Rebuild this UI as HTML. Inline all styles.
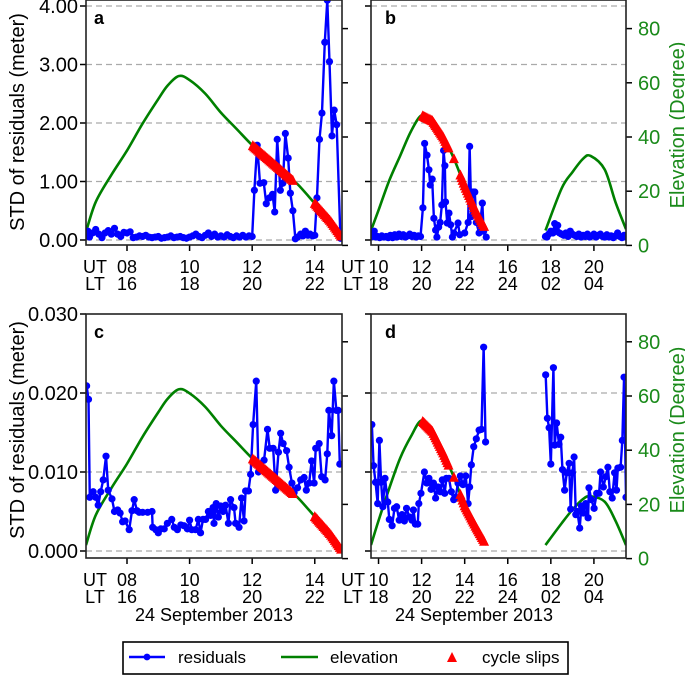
<!DOCTYPE html>
<html><head><meta charset="utf-8">
<style>
html,body{margin:0;padding:0;background:#fff;}
svg{display:block;font-family:"Liberation Sans",Arial,sans-serif;}
</style></head>
<body>
<svg id="chart" width="685" height="675" viewBox="0 0 685 675" xmlns="http://www.w3.org/2000/svg"></svg>
<script>
// ---------- DATA ----------
// elevation (degrees) panels a & c
const elevACTimes = [6.69,7.0,7.5,8.0,8.5,9.0,9.3,9.66,10.0,10.5,11.0,11.5,12.0,12.5,13.0,13.3,13.5,14.0,14.5,14.87];
const elevACValues = [5,16,26,35,45,54,59,62.5,61,56,49,43,37,32,27,24,22,15.5,9,3];
// elevation panel b
const elevBTimes1 = [9.65,10.0,10.5,11.0,11.5,12.0,12.5,13.0,13.5,14.0,14.5,15.0];
const elevBValues1 = [5.5,13,24,33,42,48,46,40,32,22,13,5.5];
const elevBTimes2 = [17.75,18.5,19.0,19.5,19.85,20.5,21.0,21.49];
const elevBValues2 = [5.5,21,27,32,33,28,16,6];
// elevation panel d
const elevDTimes1 = [9.65,10.0,10.5,11.0,11.5,12.0,12.5,13.0,13.5,14.0,14.5,15.0];
const elevDValues1 = [5,14,26,37,45,51,47,39,30,19.5,12,5];
const elevDTimes2 = [17.75,18.5,19.0,19.5,19.85,20.5,21.0,21.49];
const elevDValues2 = [5,13,18,22,23,21,14,5];

// residuals panel a (meter)
const resATimes = [6.7,6.75,6.8,6.9,7.0,7.1,7.2,7.3,7.4,7.5,7.6,7.7,7.8,7.9,8.0,8.1,8.2,8.3,8.4,8.5,8.6,8.7,8.8,8.9,9.0,9.1,9.2,9.3,9.4,9.5,9.6,9.7,9.8,9.9,10.0,10.1,10.2,10.3,10.4,10.5,10.6,10.7,10.8,10.9,11.0,11.1,11.2,11.3,11.4,11.5,11.6,11.7,11.8,11.9,12.0,12.07,12.16,12.25,12.37,12.45,12.55,12.65,12.72,12.8,12.9,12.98,13.06,13.15,13.22,13.3,13.38,13.45,13.55,13.62,13.7,13.78,13.85,13.93,14.0,14.07,14.15,14.23,14.32,14.4,14.47,14.55,14.62,14.7,14.82];
const resAValues = [0.08,0.15,0.05,0.12,0.18,0.1,0.04,0.12,0.16,0.1,0.2,0.1,0.06,0.13,0.12,0.14,0.04,0.05,0.07,0.06,0.08,0.05,0.04,0.05,0.06,0.03,0.04,0.05,0.07,0.04,0.05,0.06,0.04,0.03,0.05,0.07,0.1,0.06,0.04,0.08,0.12,0.06,0.1,0.05,0.07,0.05,0.09,0.06,0.04,0.07,0.05,0.08,0.05,0.07,0.06,0.85,1.62,0.97,0.98,0.62,0.72,0.78,0.48,1.72,0.85,0.97,1.82,1.4,0.8,0.5,0.02,0.05,0.1,0.07,0.15,0.08,0.1,0.07,0.08,0.72,1.72,2.17,3.38,4.1,3.05,1.78,2.22,1.97,0.03];
// residuals panel b (meter)
const resBTimes = [9.65,9.72,9.8,9.88,9.95,10.05,10.15,10.25,10.35,10.45,10.55,10.65,10.75,10.85,10.95,11.05,11.15,11.25,11.35,11.45,11.55,11.65,11.75,11.85,11.95,12.06,12.14,12.25,12.34,12.4,12.49,12.57,12.65,12.71,12.79,12.86,12.94,13.02,13.08,13.11,13.19,13.27,13.35,13.43,13.5,13.69,13.77,14.0,14.16,14.23,14.31,14.39,14.47,14.54,14.67,14.82,14.88,15.0,
17.75,17.82,17.9,18.0,18.1,18.18,18.25,18.32,18.4,18.5,18.6,18.7,18.8,18.9,19.0,19.1,19.2,19.3,19.4,19.5,19.6,19.7,19.8,19.9,20.0,20.1,20.2,20.3,20.4,20.5,20.6,20.7,20.8,20.9,21.0,21.1,21.2,21.3,21.4,21.48];
const resBValues = [0.05,0.1,0.15,0.05,0.06,0.04,0.07,0.05,0.06,0.04,0.08,0.04,0.09,0.05,0.1,0.06,0.09,0.05,0.07,0.1,0.06,0.08,0.05,0.07,0.06,0.55,1.65,1.45,1.2,0.94,1.04,0.37,0.17,0.05,0.22,0.3,0.6,1.53,1.27,0.65,0.29,0.46,0.26,0.05,0.12,0.29,0.09,0.12,0.3,1.6,0.4,0.82,0.82,0.3,0.12,0.63,0.15,0.05,
0.06,0.05,0.1,0.15,0.12,0.28,0.15,0.25,0.12,0.1,0.08,0.12,0.06,0.15,0.1,0.08,0.06,0.1,0.05,0.08,0.06,0.1,0.05,0.07,0.1,0.05,0.08,0.1,0.06,0.05,0.09,0.05,0.07,0.04,0.07,0.12,0.06,0.04,0.08,0.05];
// residuals panel c (units of 0.001 m)
const resCTimes = [6.71,6.77,6.81,6.92,7.0,7.08,7.16,7.24,7.33,7.4,7.52,7.6,7.7,7.78,7.86,7.94,8.07,8.16,8.23,8.32,8.39,8.5,8.66,8.8,8.82,8.92,9.0,9.08,9.19,9.29,9.43,9.51,9.61,9.72,9.82,9.93,10.0,10.07,10.19,10.28,10.35,10.43,10.51,10.6,10.67,10.75,10.78,10.85,10.92,10.99,11.07,11.15,11.24,11.31,11.42,11.47,11.58,11.66,11.74,11.79,11.88,11.95,12.03,12.13,12.2,12.27,12.38,12.49,12.56,12.67,12.75,12.84,12.91,12.99,13.1,13.18,13.27,13.34,13.45,13.55,13.66,13.73,13.82,13.9,13.98,14.03,14.14,14.22,14.33,14.4,14.45,14.54,14.61,14.69,14.75,14.8];
const resCValues = [20.9,19.2,6.8,7.5,6.8,5.8,7.5,9,12,7.7,6.6,5,5.2,4.8,3.7,3.8,2.7,5.1,6.5,5.1,4.9,4.9,4.9,5,3,2.7,2.3,2.8,2.8,3.5,4,3,2.7,3.3,3.2,2.8,3.9,2.7,2.7,4,2.3,4,4,5,4.5,5.5,3.5,6,4.3,5.7,5,5.8,3.5,6.5,5.5,3.5,3,6.7,3.8,7.6,7.6,9.7,16,21.5,10,11,11.5,15.4,13,13,7.7,12.5,14.9,13.6,12.7,10.6,8.6,7.4,8,9,9.3,7.7,8.6,11.4,8.6,13,13.6,9.4,9,12.3,17.8,14.6,21.5,17.8,17.8,11];
// residuals panel d (units of 0.001 m)
const resDTimes = [9.69,9.77,9.86,9.96,10.04,10.12,10.2,10.3,10.43,10.5,10.63,10.74,10.84,10.96,11.09,11.2,11.3,11.43,11.55,11.62,11.71,11.82,11.87,11.97,12.13,12.24,12.34,12.44,12.55,12.65,12.76,12.86,12.96,13.07,13.15,13.27,13.38,13.49,13.58,13.69,13.8,13.92,14.05,14.16,14.23,14.31,14.42,14.54,14.67,14.78,14.88,14.97,
17.76,17.84,17.92,18.0,18.12,18.18,18.27,18.38,18.46,18.54,18.64,18.74,18.85,18.92,19.0,19.08,19.16,19.23,19.34,19.42,19.51,19.62,19.73,19.77,19.88,20.01,20.13,20.24,20.31,20.44,20.55,20.65,20.74,20.85,20.96,21.05,21.11,21.24,21.32,21.4,21.49];
const resDValues = [16,10.8,8.7,6,14,8.7,5.6,9.2,6.2,4,3.2,5.4,5.6,3.9,4.6,3.8,5.4,4.3,3.9,5.2,3.4,3.4,6,7.3,10,8.6,9.2,7.8,8.6,6.7,8.1,7.5,9,7.3,9.2,9.2,7.5,6.5,6.8,8.6,9.5,8.4,9.5,6,8.1,10.9,13.2,14.2,15.3,15.4,25.8,13.8,
22.3,16.8,15.6,11,23.2,13.4,16.2,13.5,14.4,10.3,7.7,9.9,11.1,5.3,9.9,11.9,4.6,5,2.9,5.7,4.8,6,4.2,8,6.5,5.4,7.3,7.3,10,8.1,9.4,10.6,7.5,6.7,9.9,7.7,10.5,10.6,14,22,6.8];
// cycle slip times
const slipACTimes = [12.02,12.06,12.1,12.14,12.18,12.22,12.26,12.3,12.34,12.38,12.42,12.46,12.5,12.54,12.58,12.62,12.66,12.7,12.74,12.78,12.82,12.86,12.9,12.94,12.98,13.02,13.06,13.1,13.14,13.18,13.22,13.26,13.3,
14.0,14.04,14.08,14.12,14.16,14.2,14.24,14.28,14.32,14.36,14.4,14.44,14.48,14.52,14.56,14.6,14.64,14.68,14.72,14.76,14.8,14.84];
const slipBDTimes = [12.05,12.1,12.15,12.2,12.25,12.3,12.35,12.4,12.45,12.5,12.55,12.6,12.65,12.7,12.75,12.8,12.85,12.9,12.95,13.0,13.05,13.1,13.15,13.2,13.25,13.5,
13.8,13.85,13.9,13.95,14.0,14.05,14.1,14.15,14.2,14.25,14.3,14.35,14.4,14.45,14.5,14.55,14.6,14.65,14.7,14.75,14.8,14.85,14.9];
// tick labels
const utTicksAC = ["08","10","12","14"];
const ltTicksAC = ["16","18","20","22"];
const utTicksBD = ["10","12","14","16","18","20"];
const ltTicksBD = ["18","20","22","24","02","04"];
const resTicksAB = ["0.00","1.00","2.00","3.00","4.00"];
const resTicksCD = ["0.000","0.010","0.020","0.030"];
const elevTicks = ["0","20","40","60","80"];

// ---------- DRAW ----------
const NS = "http://www.w3.org/2000/svg";
const svg = document.getElementById("chart");
function mk(tag, attrs, parent) {
  const e = document.createElementNS(NS, tag);
  for (const k in attrs) e.setAttribute(k, attrs[k]);
  (parent || svg).appendChild(e);
  return e;
}
function txt(s, x, y, size, anchor, fill, parent, weight) {
  const t = mk("text", {x: x, y: y, "font-size": size, "text-anchor": anchor || "start", fill: fill || "#000"}, parent);
  if (weight) t.setAttribute("font-weight", weight);
  t.textContent = s;
  return t;
}
function interp(ts, vs, t) {
  if (t <= ts[0]) return vs[0];
  for (let i = 1; i < ts.length; i++) if (t <= ts[i]) {
    const f = (t - ts[i-1]) / (ts[i] - ts[i-1]);
    return vs[i-1] + f * (vs[i] - vs[i-1]);
  }
  return vs[vs.length-1];
}
function smoothPath(pts) {
  let d = "M" + pts[0][0] + "," + pts[0][1];
  for (let i = 0; i < pts.length - 1; i++) {
    const p0 = pts[Math.max(0,i-1)], p1 = pts[i], p2 = pts[i+1], p3 = pts[Math.min(pts.length-1,i+2)];
    const c1x = p1[0] + (p2[0]-p0[0])/6, c1y = p1[1] + (p2[1]-p0[1])/6;
    const c2x = p2[0] - (p3[0]-p1[0])/6, c2y = p2[1] - (p3[1]-p1[1])/6;
    d += " C" + c1x.toFixed(2) + "," + c1y.toFixed(2) + " " + c2x.toFixed(2) + "," + c2y.toFixed(2) + " " + p2[0].toFixed(2) + "," + p2[1].toFixed(2);
  }
  return d;
}

const defs = mk("defs", {});
const panels = [
  {id:"a", x0:86, x1:342, y0:0, y1:245, t0:6.69, t1:14.87, resZero:240, resScale:58.5, resTicks:resTicksAB, resStep:1, elevZero:245.4, leftLabels:true, rightLabels:false,
   ut:utTicksAC, lt:ltTicksAC, utHours:[8,10,12,14], rT:resATimes, rV:resAValues, eSets:[[elevACTimes,elevACValues]], slips:slipACTimes, gridTop:true},
  {id:"b", x0:371, x1:626, y0:0, y1:245, t0:9.65, t1:21.49, resZero:240, resScale:58.5, resTicks:resTicksAB, resStep:1, elevZero:245.4, leftLabels:false, rightLabels:true,
   ut:utTicksBD, lt:ltTicksBD, utHours:[10,12,14,16,18,20], rT:resBTimes, rV:resBValues, eSets:[[elevBTimes1,elevBValues1],[elevBTimes2,elevBValues2]], slips:slipBDTimes, gridTop:true},
  {id:"c", x0:86, x1:342, y0:314, y1:558, t0:6.69, t1:14.87, resZero:551, resScale:7.9, resTicks:resTicksCD, resStep:10, elevZero:558.6, leftLabels:true, rightLabels:false,
   ut:utTicksAC, lt:ltTicksAC, utHours:[8,10,12,14], rT:resCTimes, rV:resCValues, eSets:[[elevACTimes,elevACValues]], slips:slipACTimes, gridTop:false},
  {id:"d", x0:371, x1:626, y0:314, y1:558, t0:9.65, t1:21.49, resZero:551, resScale:7.9, resTicks:resTicksCD, resStep:10, elevZero:558.6, leftLabels:false, rightLabels:true,
   ut:utTicksBD, lt:ltTicksBD, utHours:[10,12,14,16,18,20], rT:resDTimes, rV:resDValues, eSets:[[elevDTimes1,elevDValues1],[elevDTimes2,elevDValues2]], slips:slipBDTimes, gridTop:false}
];

panels.forEach(p => {
  const g = mk("g", {});
  
  
  const xs = t => p.x0 + (t - p.t0) / (p.t1 - p.t0) * (p.x1 - p.x0);
  const yr = v => p.resZero - v * p.resScale;
  const ye = e => p.elevZero - e * 2.71;
  const cp = mk("clipPath", {id:"clip-" + p.id}, defs);
  mk("rect", {x:p.x0, y:p.y0, width:p.x1-p.x0, height:p.y1-p.y0}, cp);

  // grid + left ticks
  p.resTicks.forEach((lab, i) => {
    const y = yr(i * p.resStep);
    if (y > p.y0 + 3) {
      const gl = mk("line", {x1:p.x0, x2:p.x1, y1:y, y2:y, stroke:"#aaaaaa", "stroke-width":1.2, "stroke-dasharray":"6,4"}, g);
      
      
    }
    mk("line", {x1:p.x0-6, x2:p.x0, y1:y, y2:y, stroke:"#000", "stroke-width":1.5}, g);
    if (p.leftLabels) {
      const t = txt(lab, p.x0-8, y+7, 20, "end", "#000", g);
      
      
    }
  });
  // right ticks (elevation)
  elevTicks.forEach((lab, i) => {
    const y = ye(i * 20);
    mk("line", {x1:p.x1, x2:p.x1+6, y1:y, y2:y, stroke:"#000", "stroke-width":1.5}, g);
    if (p.rightLabels) {
      const t = txt(lab, p.x1+12, y+7, 20, "start", "#1a8a1a", g);
      
      
    }
  });
  // x ticks
  p.utHours.forEach((h, i) => {
    const x = xs(h);
    mk("line", {x1:x, x2:x, y1:p.y1, y2:p.y1+6, stroke:"#000", "stroke-width":1.5}, g);
    const u = txt(p.ut[i], x, p.y1+28, 18, "middle", "#000", g);
    
    
    const l = txt(p.lt[i], x, p.y1+45, 18, "middle", "#000", g);
    
    
  });
  const utx = p.id === "a" || p.id === "c" ? 95 : 353;
  const ul = txt("UT", utx, p.y1+28, 18, "middle", "#000", g);
  
  
  const ll = txt("LT", utx, p.y1+45, 18, "middle", "#000", g);
  
  

  const plot = mk("g", {"clip-path":"url(#clip-" + p.id + ")"}, g);
  // elevation
  p.eSets.forEach(es => {
    const pts = es[0].map((t, i) => [xs(t), ye(es[1][i])]);
    const el = mk("path", {d:smoothPath(pts), fill:"none", stroke:"#008000", "stroke-width":2.6}, plot);
    
    
  });
  // residuals line (break on gaps)
  let d = "";
  p.rT.forEach((t, i) => {
    const cmd = (i === 0 || t - p.rT[i-1] > 1) ? "M" : "L";
    d += cmd + xs(t).toFixed(2) + "," + yr(p.rV[i]).toFixed(2) + " ";
  });
  const rl = mk("path", {d:d, fill:"none", stroke:"#0000ff", "stroke-width":2.4, "stroke-linejoin":"round"}, plot);
  
  
  p.rT.forEach((t, i) => {
    const c = mk("circle", {cx:xs(t), cy:yr(p.rV[i]), r:3.6, fill:"#0000ff"}, plot);
    
    
  });
  // cycle slips
  p.slips.forEach(t => {
    let e = null;
    p.eSets.forEach(es => { if (t >= es[0][0] && t <= es[0][es[0].length-1]) e = interp(es[0], es[1], t); });
    if (e === null) return;
    const x = xs(t), y = ye(e);
    const tri = mk("polygon", {points:(x-5)+","+(y+4.5)+" "+(x+5)+","+(y+4.5)+" "+x+","+(y-5.5), fill:"#ff0000"}, plot);
    
    
  });
  // frame
  const fr = mk("rect", {x:p.x0, y:p.y0, width:p.x1-p.x0, height:p.y1-p.y0, fill:"none", stroke:"#222", "stroke-width":1.6}, g);
  
  
  const pl = txt(p.id, p.x0 + (p.leftLabels ? 8 : 14), p.y0 + 24, 18, "start", "#000", g, "bold");
  
  
});
</script>
<svg width="685" height="675" style="position:absolute;left:0;top:0;font-family:'Liberation Sans',Arial,sans-serif">
  <text x="24" y="122" font-size="20" text-anchor="middle" transform="rotate(-90 24 122)">STD of residuals (meter)</text>
  <text x="24" y="430" font-size="20" text-anchor="middle" transform="rotate(-90 24 430)">STD of residuals (meter)</text>
  <text x="684" y="125" font-size="20" text-anchor="middle" fill="#1a8a1a" transform="rotate(-90 684 125)">Elevation (Degree)</text>
  <text x="684" y="430" font-size="20" text-anchor="middle" fill="#1a8a1a" transform="rotate(-90 684 430)">Elevation (Degree)</text>
  <text x="214" y="621" font-size="18" text-anchor="middle">24 September 2013</text>
  <text x="474" y="621" font-size="18" text-anchor="middle">24 September 2013</text>
  <g>
    <rect x="123" y="642" width="445" height="32" fill="#fff" stroke="#000" stroke-width="1.6"/>
    <line x1="129" y1="657" x2="165" y2="657" stroke="#0000ff" stroke-width="2.4"/>
    <circle cx="147" cy="657" r="3.4" fill="#0000ff"/>
    <text x="178" y="663" font-size="17">residuals</text>
    <line x1="281" y1="657" x2="318" y2="657" stroke="#008000" stroke-width="2.4"/>
    <text x="330" y="663" font-size="17">elevation</text>
    <polygon points="447,662 457,662 452,652" fill="#ff0000"/>
    <text x="482" y="663" font-size="17">cycle slips</text>
  </g>
</svg>
</body></html>
